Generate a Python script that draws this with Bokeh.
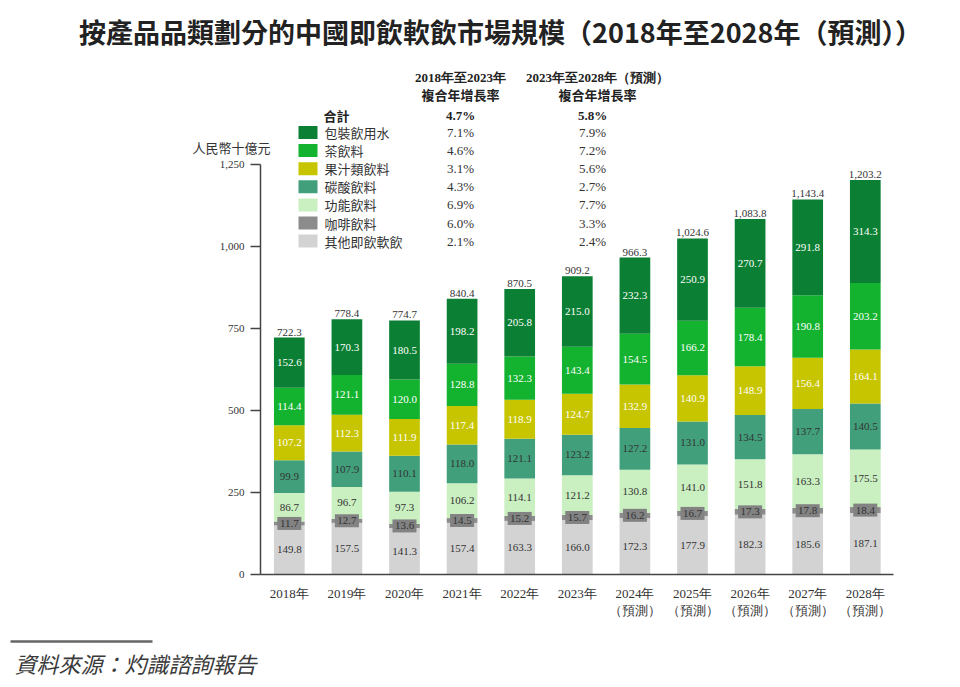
from bokeh.plotting import figure
from bokeh.models import ColumnDataSource, Range1d, FixedTicker, NumeralTickFormatter, Label
from bokeh.core.properties import value
from bokeh.embed import file_html
from bokeh.resources import INLINE

# ---------------- data ----------------
years = ["2018年", "2019年", "2020年", "2021年", "2022年", "2023年",
         "2024年\n（預測）", "2025年\n（預測）", "2026年\n（預測）", "2027年\n（預測）", "2028年\n（預測）"]

others     = [149.8, 157.5, 141.3, 157.4, 163.3, 166.0, 172.3, 177.9, 182.3, 185.6, 187.1]
coffee     = [11.7, 12.7, 13.6, 14.5, 15.2, 15.7, 16.2, 16.7, 17.3, 17.8, 18.4]
functional = [86.7, 96.7, 97.3, 106.2, 114.1, 121.2, 130.8, 141.0, 151.8, 163.3, 175.5]
carbonated = [99.9, 107.9, 110.1, 118.0, 121.1, 123.2, 127.2, 131.0, 134.5, 137.7, 140.5]
juice      = [107.2, 112.3, 111.9, 117.4, 118.9, 124.7, 132.9, 140.9, 148.9, 156.4, 164.1]
tea        = [114.4, 121.1, 120.0, 128.8, 132.3, 143.4, 154.5, 166.2, 178.4, 190.8, 203.2]
water      = [152.6, 170.3, 180.5, 198.2, 205.8, 215.0, 232.3, 250.9, 270.7, 291.8, 314.3]
totals     = [722.3, 778.4, 774.7, 840.4, 870.5, 909.2, 966.3, 1024.6, 1083.8, 1143.4, 1203.2]

# legend order (top to bottom)
legend_names = ["包裝飲用水", "茶飲料", "果汁類飲料", "碳酸飲料", "功能飲料", "咖啡飲料", "其他即飲軟飲"]
cagr_18_23 = ["7.1%", "4.6%", "3.1%", "4.3%", "6.9%", "6.0%", "2.1%"]
cagr_23_28 = ["7.9%", "7.2%", "5.6%", "2.7%", "7.7%", "3.3%", "2.4%"]
total_cagr_18_23 = "4.7%"
total_cagr_23_28 = "5.8%"

y_ticks = [0, 250, 500, 750, 1000, 1250]

# ---------------- styling ----------------
colors = {"water": "#0b7f33", "tea": "#13b22f", "juice": "#c7c400", "carbonated": "#41a07b",
          "functional": "#caefc0", "coffee": "#8c8c8c", "others": "#d3d3d3"}
label_colors = {"water": "white", "tea": "white", "juice": "white", "carbonated": "#333333",
                "functional": "#333333", "coffee": "#333333", "others": "#333333"}
stack_keys = ["others", "coffee", "functional", "carbonated", "juice", "tea", "water"]
legend_keys = ["water", "tea", "juice", "carbonated", "functional", "coffee", "others"]
series = {"others": others, "coffee": coffee, "functional": functional, "carbonated": carbonated,
          "juice": juice, "tea": tea, "water": water}

SERIF_NAME = "Liberation Serif"
CJK_NAME = "Noto Sans CJK TC"
SERIF = value(SERIF_NAME)
CJK = value(CJK_NAME)

W, H = 944, 680
AXIS_SX, ZERO_SY = 260, 574     # page pixel of y axis line / of value 0
PXX = 57.6                      # pixels per category step
PXY = 0.328                     # pixels per unit of value


def X(sx):  # page pixel -> data x
    return -0.5 + (sx - AXIS_SX) / PXX


def Y(sy):  # page pixel -> data y
    return (ZERO_SY - sy) / PXY


p = figure(width=W, height=H, x_range=Range1d(X(0), X(W)), y_range=Range1d(Y(H), Y(0)),
           output_backend="svg", toolbar_location=None,
           min_border_left=0, min_border_right=0, min_border_top=0, min_border_bottom=0)
p.outline_line_color = None
p.grid.visible = False
p.background_fill_color = "white"
p.border_fill_color = "white"

xs = list(range(len(years)))
src = ColumnDataSource(dict(x=xs, **series))
BAR_W = 0.533
p.vbar_stack(stack_keys, x="x", width=BAR_W, color=[colors[k] for k in stack_keys],
             line_color=None, source=src)

# segment value labels
bottoms = [0.0] * len(xs)
for k in stack_keys:
    vals = series[k]
    cy = [b + v / 2 for b, v in zip(bottoms, vals)]
    if k == "coffee":
        p.rect(x=xs, y=cy, width=24, height=13, width_units="screen", height_units="screen",
               fill_color="#828282", line_color=None)
    p.text(x=xs, y=cy, text=[f"{v:.1f}" for v in vals], text_align="center", text_baseline="middle",
           text_font=SERIF, text_font_size="11px", text_color=label_colors[k])
    bottoms = [b + v for b, v in zip(bottoms, vals)]

# totals
p.text(x=xs, y=totals, text=[f"{t:,.1f}" for t in totals], text_align="center", text_baseline="bottom",
       y_offset=-2, text_font=SERIF, text_font_size="11px", text_color="#333333")

# axes (placed at fixed data locations inside the frame)
p.xaxis.fixed_location = 0
p.xaxis.ticker = FixedTicker(ticks=xs)
p.xaxis.major_label_overrides = {i: years[i] for i in xs}
p.xaxis.bounds = (-0.5, X(893))
p.xaxis.major_tick_line_color = None
p.xaxis.minor_tick_line_color = None
p.xaxis.axis_line_color = "#444444"
p.xaxis.axis_line_width = 1.5
p.xaxis.major_label_standoff = 5
p.xaxis.major_label_text_font = SERIF_NAME
p.xaxis.major_label_text_font_size = "13px"
p.xaxis.major_label_text_line_height = 1.15
p.xaxis.major_label_text_color = "#333333"

p.yaxis.fixed_location = -0.5
p.yaxis.ticker = FixedTicker(ticks=y_ticks)
p.yaxis.formatter = NumeralTickFormatter(format="0,0")
p.yaxis.bounds = (0, 1250)
p.yaxis.major_tick_out = 10
p.yaxis.major_tick_in = 0
p.yaxis.minor_tick_line_color = None
p.yaxis.axis_line_color = "#444444"
p.yaxis.axis_line_width = 1.5
p.yaxis.major_tick_line_color = "#444444"
p.yaxis.major_tick_line_width = 1.5
p.yaxis.major_label_standoff = 6
p.yaxis.major_label_text_font = SERIF_NAME
p.yaxis.major_label_text_font_size = "11px"
p.yaxis.major_label_text_color = "#333333"

# legend table
p.text(x=[X(460), X(597)], y=[Y(77), Y(77)], text=["2018年至2023年", "2023年至2028年（預測）"],
       text_align="center", text_baseline="middle", text_font=SERIF, text_font_style="bold",
       text_font_size="13px", text_color="#222222")
p.text(x=[X(460), X(597)], y=[Y(94), Y(94)], text=["複合年增長率", "複合年增長率"],
       text_align="center", text_baseline="middle", text_font=CJK, text_font_style="bold",
       text_font_size="13px", text_color="#222222")
p.text(x=[X(323)], y=[Y(115)], text=["合計"], text_align="left", text_baseline="middle",
       text_font=CJK, text_font_style="bold", text_font_size="13px", text_color="#222222")
p.text(x=[X(460), X(592)], y=[Y(115), Y(115)], text=[total_cagr_18_23, total_cagr_23_28],
       text_align="center", text_baseline="middle", text_font=SERIF, text_font_style="bold",
       text_font_size="13px", text_color="#222222")
row_y = [Y(132 + 18.1 * i) for i in range(len(legend_names))]
p.rect(x=[X(307.5)] * len(row_y), y=row_y, width=19, height=13, width_units="screen", height_units="screen",
       fill_color=[colors[k] for k in legend_keys], line_color=None)
p.text(x=[X(324)] * len(row_y), y=row_y, text=legend_names, text_align="left", text_baseline="middle",
       text_font=CJK, text_font_size="13px", text_color="#333333")
p.text(x=[X(460)] * len(row_y), y=row_y, text=cagr_18_23, text_align="center", text_baseline="middle",
       text_font=SERIF, text_font_size="13px", text_color="#333333")
p.text(x=[X(592)] * len(row_y), y=row_y, text=cagr_23_28, text_align="center", text_baseline="middle",
       text_font=SERIF, text_font_size="13px", text_color="#333333")

# free texts
p.add_layout(Label(x=X(500), y=Y(31), text="按產品品類劃分的中國即飲軟飲市場規模（2018年至2028年（預測））",
                   text_align="center", text_baseline="middle", text_font=CJK_NAME, text_font_style="bold",
                   text_font_size="27px", text_color="#222222"))
p.add_layout(Label(x=X(231), y=Y(147), text="人民幣十億元", text_align="center", text_baseline="middle",
                   text_font=CJK_NAME, text_font_size="13px", text_color="#333333"))
p.segment(x0=[X(10)], y0=[Y(641)], x1=[X(152)], y1=[Y(641)], line_color="#666666", line_width=2.5)
p.add_layout(Label(x=X(14), y=Y(662), text="資料來源：灼識諮詢報告", text_align="left", text_baseline="middle",
                   text_font=CJK_NAME, text_font_style="italic", text_font_size="22px", text_color="#3a3a3a"))

open("out.html", "w").write(file_html(p, INLINE))
